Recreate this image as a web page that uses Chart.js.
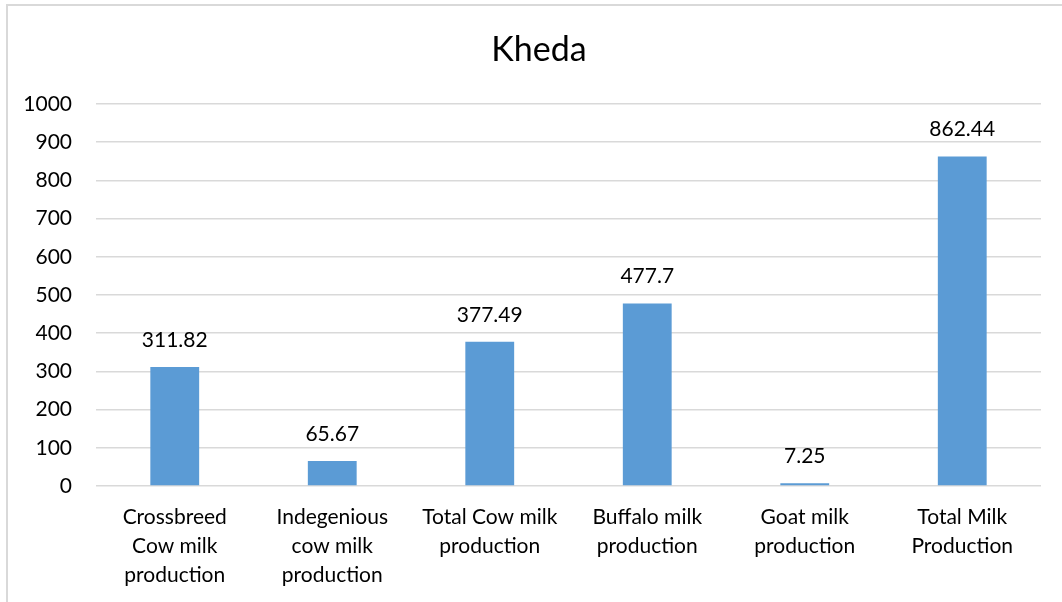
<!DOCTYPE html>
<html>
<head>
<meta charset="utf-8">
<title>Kheda</title>
<script src="https://cdn.jsdelivr.net/npm/chart.js@4.4.1/dist/chart.umd.min.js"></script>
<style>
  html, body { margin: 0; padding: 0; background: #fff; overflow: hidden; }
  #frame {
    position: absolute; left: 6px; top: 4px; width: 1100px; height: 640px;
    border-left: 2px solid #d9d9d9; border-top: 2px solid #d9d9d9;
  }
  #wrap { position: absolute; left: 0; top: 0; width: 1062px; height: 602px; }
</style>
</head>
<body>
<div id="frame"></div>
<div id="wrap"><canvas id="chart"></canvas></div>
<script>
  // milk production figures for the district
  const categories = [
    ['Crossbreed', 'Cow milk', 'production'],
    ['Indegenious', 'cow milk', 'production'],
    ['Total Cow milk', 'production'],
    ['Buffalo milk', 'production'],
    ['Goat milk', 'production'],
    ['Total Milk', 'Production']
  ];
  const production = [311.82, 65.67, 377.49, 477.7, 7.25, 862.44];
  const yTicks = [0, 100, 200, 300, 400, 500, 600, 700, 800, 900, 1000];
  const chartTitle = 'Kheda';

  const FONT = 'Lato, "Open Sans", sans-serif';

  // title is centred on the outer frame rather than the canvas
  const frameTitle = {
    id: 'frameTitle',
    afterDraw(chart) {
      const ctx = chart.ctx;
      ctx.save();
      ctx.font = '34px ' + FONT;
      ctx.fillStyle = '#000';
      ctx.textAlign = 'center';
      ctx.textBaseline = 'middle';
      ctx.fillText(chartTitle, 539, 50);
      ctx.restore();
    }
  };

  // write the value above each bar
  const valueLabels = {
    id: 'valueLabels',
    afterDatasetsDraw(chart) {
      const ctx = chart.ctx;
      const meta = chart.getDatasetMeta(0);
      ctx.save();
      ctx.font = '21px ' + FONT;
      ctx.fillStyle = '#000';
      ctx.textAlign = 'center';
      ctx.textBaseline = 'middle';
      meta.data.forEach((bar, i) => {
        ctx.fillText(String(production[i]), bar.x, bar.y - 27);
      });
      ctx.restore();
    }
  };

  const ctx = document.getElementById('chart').getContext('2d');
  new Chart(ctx, {
    type: 'bar',
    data: {
      labels: categories,
      datasets: [{
        data: production,
        backgroundColor: '#5b9bd5',
        borderWidth: 0,
        categoryPercentage: 1,
        barPercentage: 0.31
      }]
    },
    options: {
      responsive: true,
      maintainAspectRatio: false,
      animation: false,
      layout: { padding: { left: 0, right: 21, top: 104, bottom: 0 } },
      plugins: {
        legend: { display: false },
        tooltip: { enabled: false },
        title: { display: false }
      },
      scales: {
        x: {
          grid: { display: false, drawTicks: false },
          border: { display: false },
          ticks: {
            color: '#000',
            font: { family: FONT, size: 21, lineHeight: 1.38 },
            padding: 17,
            maxRotation: 0,
            autoSkip: false
          },
          afterFit(scale) { scale.height = 602 - 486; }
        },
        y: {
          min: 0,
          max: 1000,
          afterBuildTicks(scale) { scale.ticks = yTicks.map(v => ({ value: v })); },
          grid: { color: '#d9d9d9', lineWidth: 1.5, drawTicks: false },
          border: { display: false },
          ticks: {
            color: '#000',
            font: { family: FONT, size: 21 },
            padding: 24,
            callback: v => String(v)
          },
          afterFit(scale) { scale.width = 96; }
        }
      }
    },
    plugins: [valueLabels, frameTitle]
  });
</script>
</body>
</html>
